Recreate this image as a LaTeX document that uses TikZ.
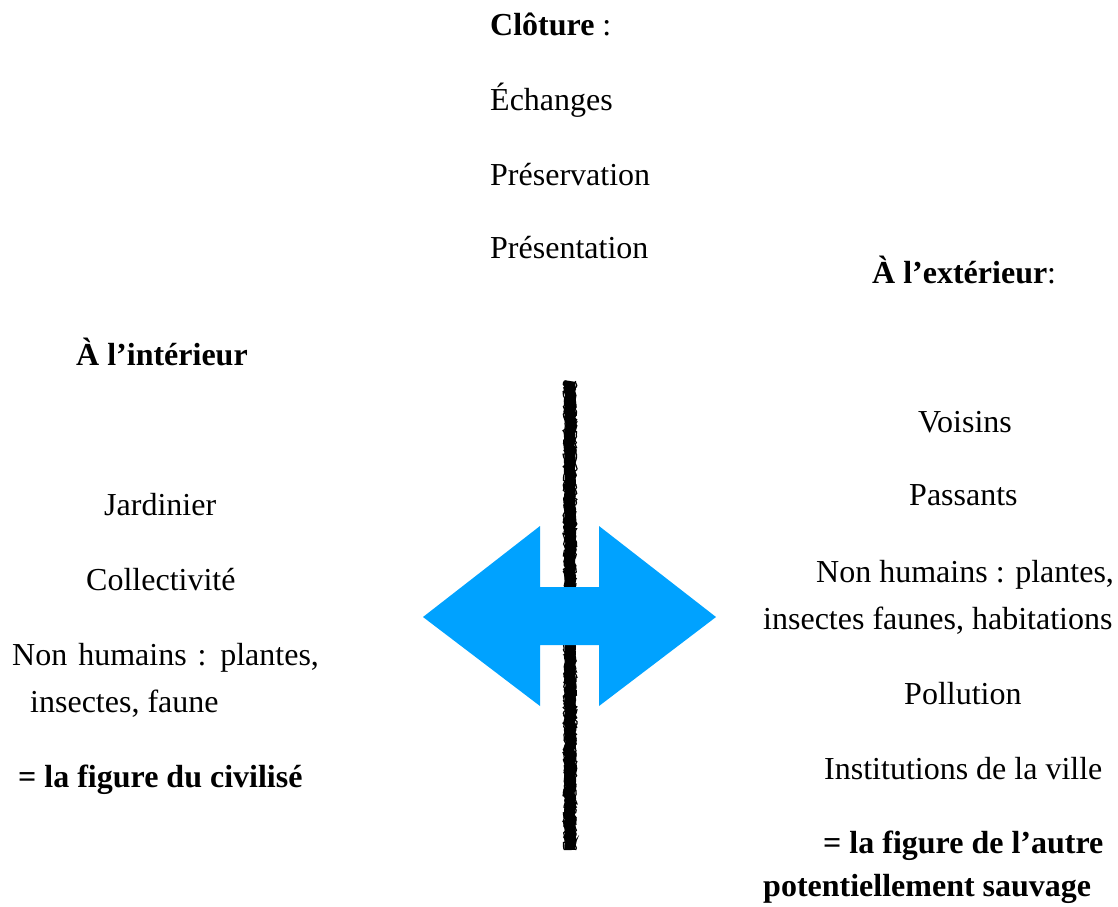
\documentclass[tikz,border=0pt]{standalone}
\usepackage{fontspec}
\setmainfont{Liberation Serif}
\usetikzlibrary{decorations.pathmorphing}
\definecolor{arrowblue}{RGB}{0,162,255}
\tikzset{
  txt/.style={anchor=base west, inner sep=0pt, font=\fontsize{32}{38}\selectfont},
  fence/.style={line width=11pt, black, decorate, decoration={random steps, segment length=3pt, amplitude=1.2pt}},
  fenceedge/.style={line width=1.2pt, black, decorate, decoration={random steps, segment length=2pt, amplitude=1.5pt}},
  exchange/.style={fill=arrowblue, draw=none}
}
\begin{document}
\begin{tikzpicture}[x=1pt,y=-1pt]
\useasboundingbox (0,0) rectangle (1118,906);
% top column: cloture
\node[txt] (clo) at (490,35) {\textbf{Clôture} :};
\node[txt] (ech) at (490,110) {Échanges};
\node[txt] (pres) at (490,185) {Préservation};
\node[txt] (pst) at (490,258) {Présentation};
% left column
\node[txt] (int) at (76,365) {\textbf{À l’intérieur}};
\node[txt] (jar) at (104,515) {Jardinier};
\node[txt] (col) at (86,590) {Collectivité};
\node[txt] (nh1) at (12,665) {\spaceskip=11pt Non humains : plantes,};
\node[txt] (nh2) at (30,712) {insectes, faune};
\node[txt] (civ) at (18,787) {\textbf{= la figure du civilisé}};
% right column
\node[txt] (ext) at (872,283) {\textbf{À l’extérieur}:};
\node[txt] (voi) at (918,432) {Voisins};
\node[txt] (pas) at (909,505) {Passants};
\node[txt] (rnh1) at (816,582) {Non humains : plantes,};
\node[txt] (rnh2) at (763,629) {insectes faunes, habitations};
\node[txt] (pol) at (904,704) {Pollution};
\node[txt] (ins) at (824,779) {Institutions de la ville};
\node[txt] (aut1) at (823,853) {\textbf{= la figure de l’autre}};
\node[txt] (aut2) at (763,896) {\textbf{potentiellement sauvage}};
% fence line
\coordinate (ftop) at (570,381);
\coordinate (fbot) at (570,850);
\draw[fence] (ftop) -- (fbot);
\draw[fenceedge] (564.5,381) -- (564.5,850);
\draw[fenceedge] (575.5,381) -- (575.5,850);
% double arrow
\fill[exchange] (423,617) -- (540,526) -- (540,587) -- (599,587) -- (599,526) -- (716,617)
  -- (599,706) -- (599,645) -- (540,645) -- (540,706) -- cycle;
\end{tikzpicture}
\end{document}
